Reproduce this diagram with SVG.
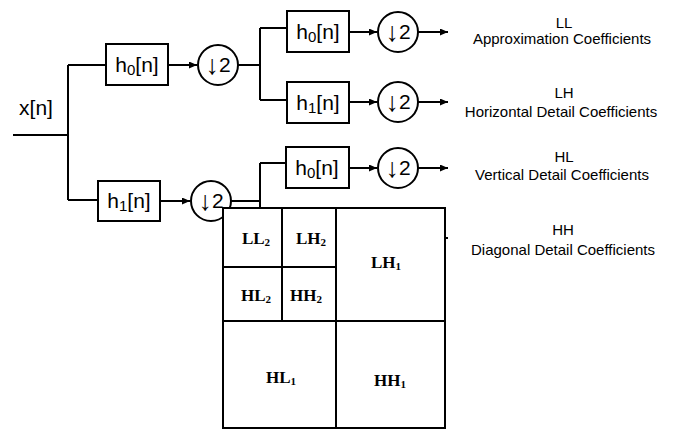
<svg xmlns="http://www.w3.org/2000/svg" width="673" height="430" viewBox="0 0 673 430">
<style>
.ln{stroke:#000;stroke-width:2;fill:none}
.box{stroke:#000;stroke-width:2;fill:#fff}
.circ{stroke:#000;stroke-width:2;fill:#fff}
.ft{font-family:"Liberation Sans","DejaVu Sans",sans-serif;font-size:21px;fill:#000;text-anchor:middle}
.sub{font-size:15px}
.ds{font-family:"Liberation Sans","DejaVu Sans",sans-serif;font-size:21px;fill:#000;text-anchor:middle}
.ar{font-size:27px;font-weight:bold}
.lbl{font-family:"Liberation Sans","DejaVu Sans",sans-serif;font-size:15px;fill:#000;text-anchor:middle}
.gl{stroke:#000;stroke-width:2;fill:#fff}
.gt{font-family:"Liberation Serif","Times New Roman",serif;font-weight:bold;font-size:17px;fill:#000;text-anchor:middle}
.gs{font-size:11px}
</style>
<defs>
<marker id="ah" markerUnits="userSpaceOnUse" markerWidth="8" markerHeight="7" refX="8" refY="3.5" orient="auto">
<path d="M0,0 L8,3.5 L0,7 z" fill="#000"/>
</marker>
</defs>
<g id="connectors">
<path class="ln" d="M13,135 H68 M68,65 V200 M68,65 H106 M68,200 H98"/>
<path class="ln" d="M168,65 H197" marker-end="url(#ah)"/>
<path class="ln" d="M238,65 H260 M260,28 V100 M260,28 H287 M260,100 H287"/>
<path class="ln" d="M160,201 H190" marker-end="url(#ah)"/>
<path class="ln" d="M231,201 H260 M260,163 V208 M260,163 H286"/>
<path class="ln" d="M349,32 H377" marker-end="url(#ah)"/>
<path class="ln" d="M349,102 H377" marker-end="url(#ah)"/>
<path class="ln" d="M349,168 H377" marker-end="url(#ah)"/>
<path class="ln" d="M418,32 H448" marker-end="url(#ah)"/>
<path class="ln" d="M418,102 H448" marker-end="url(#ah)"/>
<path class="ln" d="M418,168 H448" marker-end="url(#ah)"/>
<path class="ln" d="M420,238 H448" marker-end="url(#ah)"/>
</g>
<g id="input"><text class="ft" x="36" y="115">x[n]</text></g>
<g id="h0_l1"><rect class="box" x="106" y="44" width="62" height="41"/><text class="ft" x="137" y="72">h<tspan class="sub" dy="3">0</tspan><tspan dy="-3">[n]</tspan></text></g>
<g id="ds_l1a"><circle class="circ" cx="218" cy="65" r="20"/><text class="ds" x="218" y="72"><tspan class="ar" dy="2">↓</tspan><tspan dy="-2">2</tspan></text></g>
<g id="h1_l1"><rect class="box" x="98" y="181" width="62" height="40"/><text class="ft" x="129" y="208">h<tspan class="sub" dy="3">1</tspan><tspan dy="-3">[n]</tspan></text></g>
<g id="ds_l1b"><circle class="circ" cx="211" cy="201" r="20"/><text class="ds" x="211" y="208"><tspan class="ar" dy="2">↓</tspan><tspan dy="-2">2</tspan></text></g>
<g id="h0_ll"><rect class="box" x="287" y="11" width="62" height="41"/><text class="ft" x="318" y="39">h<tspan class="sub" dy="3">0</tspan><tspan dy="-3">[n]</tspan></text></g>
<g id="ds_ll"><circle class="circ" cx="398" cy="32" r="20"/><text class="ds" x="398" y="39"><tspan class="ar" dy="2">↓</tspan><tspan dy="-2">2</tspan></text></g>
<g id="h1_lh"><rect class="box" x="287" y="82" width="62" height="41"/><text class="ft" x="318" y="110">h<tspan class="sub" dy="3">1</tspan><tspan dy="-3">[n]</tspan></text></g>
<g id="ds_lh"><circle class="circ" cx="398" cy="102" r="20"/><text class="ds" x="398" y="109"><tspan class="ar" dy="2">↓</tspan><tspan dy="-2">2</tspan></text></g>
<g id="h0_hl"><rect class="box" x="286" y="147" width="63" height="41"/><text class="ft" x="317" y="175">h<tspan class="sub" dy="3">0</tspan><tspan dy="-3">[n]</tspan></text></g>
<g id="ds_hl"><circle class="circ" cx="398" cy="168" r="20"/><text class="ds" x="398" y="175"><tspan class="ar" dy="2">↓</tspan><tspan dy="-2">2</tspan></text></g>
<g id="label_ll"><text class="lbl" x="564" y="28">LL</text><text class="lbl" x="562" y="44">Approximation Coefficients</text></g>
<g id="label_lh"><text class="lbl" x="564" y="98">LH</text><text class="lbl" x="561" y="117">Horizontal Detail Coefficients</text></g>
<g id="label_hl"><text class="lbl" x="564" y="162">HL</text><text class="lbl" x="562" y="180">Vertical Detail Coefficients</text></g>
<g id="label_hh"><text class="lbl" x="563" y="235">HH</text><text class="lbl" x="563" y="255">Diagonal Detail Coefficients</text></g>
<g id="grid">
<rect class="gl" x="223" y="208" width="222" height="220"/>
<path class="ln" d="M336,208 V428 M223,321 H445 M282,208 V321 M223,267 H336"/>
<text class="gt" x="256" y="244">LL<tspan class="gs" dy="2">2</tspan></text>
<text class="gt" x="311" y="244">LH<tspan class="gs" dy="2">2</tspan></text>
<text class="gt" x="256" y="301">HL<tspan class="gs" dy="2">2</tspan></text>
<text class="gt" x="306" y="301">HH<tspan class="gs" dy="2">2</tspan></text>
<text class="gt" x="386" y="268">LH<tspan class="gs" dy="2">1</tspan></text>
<text class="gt" x="281" y="383">HL<tspan class="gs" dy="2">1</tspan></text>
<text class="gt" x="390" y="386">HH<tspan class="gs" dy="2">1</tspan></text>
</g>
</svg>
